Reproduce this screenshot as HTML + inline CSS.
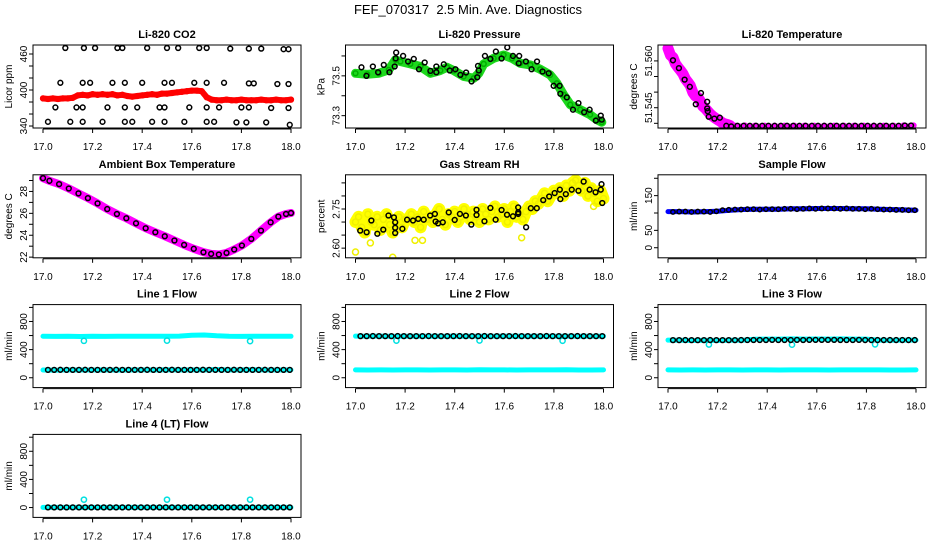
<!DOCTYPE html>
<html><head><meta charset="utf-8">
<style>
html,body{margin:0;padding:0;background:#fff;}
svg{display:block;font-family:"Liberation Sans",Arial,sans-serif;}
</style></head>
<body>
<svg id="chart" width="936" height="540" viewBox="0 0 936 540" xmlns="http://www.w3.org/2000/svg">
<rect x="0" y="0" width="936" height="540" fill="#fff"/>
<text x="468" y="14" text-anchor="middle" font-size="13">FEF_070317&#160; 2.5 Min. Ave. Diagnostics</text>
</svg>
<script>
// ---- shared axis data ----
const xTickVals = [17.0,17.2,17.4,17.6,17.8,18.0];
const xTickLabels = ["17.0","17.2","17.4","17.6","17.8","18.0"];

// ---- Li-820 CO2 ----
const co2Red = [386,385,386,385,386,386,387,391,392,391,393,392,393,392,393,391,392,390,389,390,391,392,393,392,394,394,395,396,397,398,399,399,398,388,384,383,383,384,383,383,384,383,383,383,384,383,383,384,383,383,384];
const co2BlackT = [17.09,17.165,17.21,17.30,17.32,17.42,17.50,17.545,17.63,17.66,17.755,17.83,17.88,17.97,17.99,
 17.07,17.16,17.19,17.28,17.33,17.40,17.49,17.52,17.61,17.66,17.73,17.83,17.85,17.945,17.99,
 17.05,17.135,17.16,17.26,17.33,17.38,17.47,17.49,17.59,17.66,17.71,17.80,17.83,17.92,17.99,
 17.02,17.11,17.16,17.24,17.33,17.36,17.44,17.49,17.57,17.66,17.69,17.78,17.82,17.90,17.995];
const co2BlackV = [470,470,470,470,470,470,470,470,470,470,469,469,469,468,468,
 412,412,412,412,412,412,412,412,412,412,412,411,411,410,410,
 371,371,371,371,371,371,371,371,371,371,371,371,371,370,370,
 347,347,347,347,347,347,347,347,347,347,347,346,346,346,342];
const co2Ticks = [340,360,380,400,420,440,460];
const co2Labels = ["340","","","400","","","460"];

// ---- Li-820 Pressure ----
const presGreenT = [17.000,17.047,17.094,17.134,17.161,17.181,17.221,17.262,17.302,17.342,17.369,17.396,17.436,17.477,17.497,17.517,17.557,17.597,17.631,17.664,17.705,17.745,17.785,17.812,17.839,17.866,17.906,17.946,17.973,17.993];
const presGreenV = [73.513,73.508,73.513,73.530,73.580,73.572,73.560,73.547,73.513,73.527,73.543,73.527,73.497,73.488,73.513,73.560,73.588,73.605,73.588,73.563,73.555,73.533,73.505,73.463,73.405,73.355,73.330,73.305,73.280,73.267];
const presBlackT = [17.024,17.044,17.070,17.091,17.114,17.137,17.158,17.162,17.164,17.192,17.212,17.235,17.256,17.279,17.302,17.326,17.326,17.356,17.380,17.403,17.423,17.446,17.468,17.491,17.494,17.497,17.522,17.544,17.566,17.589,17.612,17.635,17.660,17.658,17.687,17.710,17.732,17.754,17.779,17.799,17.823,17.826,17.852,17.877,17.899,17.922,17.944,17.969,17.989,17.993];
const presBlackV = [73.543,73.500,73.547,73.518,73.555,73.518,73.547,73.588,73.617,73.600,73.572,73.585,73.533,73.567,73.525,73.547,73.518,73.558,73.527,73.533,73.505,73.517,73.472,73.493,73.550,73.527,73.600,73.585,73.622,73.587,73.643,73.600,73.600,73.563,73.572,73.533,73.572,73.522,73.513,73.450,73.450,73.410,73.392,73.330,73.363,73.317,73.330,73.275,73.300,73.280];
const presTicks = [73.3,73.4,73.5,73.6];
const presLabels = ["73.3","","73.5",""];

// ---- Li-820 Temperature ----
const tempMagDrop = [51.5640,51.5618,51.5611,51.5591,51.5580,51.5570,51.5559,51.5542,51.5532,51.5521,51.5499,51.5488,51.5483,51.5472,51.5455,51.5448,51.5439,51.5430,51.5423,51.5417,51.5412,51.5407,51.5401,51.5398,51.5396,51.5393];
const tempMagFlat = [51.5392,51.5393,51.5392,51.5392,51.5392,51.5392,51.5392,51.5392,51.5392,51.5392,51.5392,51.5392,51.5392,51.5392,51.5392,51.5392,51.5392,51.5393,51.5393];
const tempBlackT = [17.020,17.044,17.067,17.088,17.112,17.133,17.158,17.158,17.160,17.164,17.187,17.209,17.235,17.255];
const tempBlackV = [51.5602,51.5577,51.5540,51.5517,51.5461,51.5497,51.5469,51.5448,51.5439,51.5421,51.5415,51.5418,51.5392,51.5390];
const tempBlackFlat = [51.5392,51.5392,51.5392,51.5392,51.5392,51.5392,51.5392,51.5392,51.5392,51.5392,51.5392,51.5392,51.5392,51.5392,51.5392,51.5392,51.5392,51.5392,51.5392,51.5392,51.5392,51.5392,51.5392,51.5392,51.5392,51.5392,51.5392,51.5393,51.5393];
const tempTicks = [51.540,51.545,51.550,51.555,51.560];
const tempLabels = ["","51.545","","","51.560"];

// ---- Ambient Box Temperature ----
const ambT = [17.0,17.026,17.065,17.104,17.143,17.181,17.22,17.259,17.298,17.336,17.375,17.414,17.453,17.491,17.530,17.569,17.608,17.647,17.678,17.709,17.740,17.771,17.802,17.840,17.879,17.918,17.949,17.980,18.0];
const ambV = [29.21,28.97,28.67,28.27,27.82,27.39,26.91,26.39,25.94,25.55,25.09,24.64,24.27,23.91,23.52,23.12,22.76,22.45,22.30,22.24,22.39,22.70,23.06,23.67,24.42,25.18,25.70,25.94,26.03];
const ambTicks = [22,23,24,25,26,27,28,29];
const ambLabels = ["22","","24","","26","","28",""];

// ---- Gas Stream RH ----
const rhYellow = [2.70,2.72,2.68,2.66,2.73,2.70,2.69,2.72,2.67,2.71,2.73,2.69,2.66,2.70,2.72,2.68,2.71,
 2.71,2.73,2.70,2.72,2.68,2.74,2.71,2.72,2.70,2.73,2.75,2.71,2.69,2.73,2.72,2.74,2.70,2.72,2.75,2.73,2.71,2.74,2.72,2.70,2.75,2.73,2.71,2.74,2.76,2.72,2.73,2.75,2.70,2.74,2.76,2.72,
 2.73,2.71,2.74,2.76,2.75,2.78,2.77,2.79,2.81,2.78,2.80,2.82,2.81,2.83,2.80,2.84,2.82,2.85,2.86,2.84,2.82,2.85,2.80,2.83,2.81,2.78,2.82,2.79];
const rhOutT = [17.0,17.15,17.06,17.27,17.67,17.24,17.96];
const rhOutV = [2.585,2.565,2.62,2.63,2.64,2.63,2.76];
const rhBlackT = [17.019,17.045,17.064,17.088,17.112,17.133,17.155,17.160,17.160,17.160,17.189,17.208,17.232,17.253,17.275,17.301,17.320,17.323,17.333,17.352,17.376,17.400,17.421,17.445,17.467,17.488,17.488,17.520,17.544,17.565,17.589,17.611,17.635,17.656,17.656,17.656,17.688,17.707,17.731,17.757,17.781,17.803,17.824,17.826,17.848,17.872,17.899,17.920,17.944,17.968,17.989,17.992,17.995];
const rhBlackV = [2.667,2.661,2.706,2.655,2.671,2.725,2.718,2.699,2.678,2.658,2.674,2.709,2.706,2.712,2.709,2.725,2.731,2.702,2.695,2.699,2.737,2.708,2.731,2.725,2.690,2.747,2.727,2.703,2.754,2.709,2.746,2.728,2.722,2.756,2.737,2.731,2.680,2.753,2.753,2.784,2.798,2.811,2.824,2.788,2.807,2.824,2.820,2.855,2.824,2.814,2.824,2.845,2.773];
const rhTicks = [2.60,2.65,2.70,2.75,2.80,2.85];
const rhLabels = ["2.60","","","2.75","",""];

// ---- Sample Flow ----
const sampleBlue = [104,104,103,104,105,108,110,111,111,111,112,112,113,113,113,112,112,111,110,109,108];
const sampleBlack = [103,104,104,103,104,104,103,105,108,109,110,110,111,111,110,111,111,111,112,112,111,112,113,112,113,113,113,112,113,112,112,111,112,111,110,110,109,109,108,108];
const sampleTicks = [0,50,100,150,200];
const sampleLabels = ["0","50","","150",""];

// ---- Line flows ----
const flowTicks = [0,200,400,600,800,1000];
const flowLabels = ["0","","400","","800",""];
const dipT = [17.165,17.5,17.835];
const line1CyanHigh = [590,588,590,586,590,588,590,589,590,591,590,592,605,608,596,590,588,590,589,590,590];
const line1CyanLow = [110,108,112,110,110,111,109,110,112,110,115,110,112,110,118,110,111,115,110,110,112];
const line1Dip = [525,528,520];
const line1Black = [112,112,113,112,112,112,113,112,112,112,112,113,112,112,112,112,113,112,112,112,113,112,112,112,112,113,112,112,112,112,113,112,112,112,112,113,112,112,112,112];
const line2CyanHigh = [592,590,592,588,590,590,591,590,592,590,591,590,592,591,590,590,589,590,590,590,591];
const line2CyanLow = [112,110,112,110,111,112,110,111,112,110,115,111,112,110,112,111,112,115,110,110,112];
const line2Dip = [528,530,526];
const line2Black = [592,592,593,592,592,592,593,592,592,592,592,593,592,592,592,592,593,592,592,592,593,592,592,592,592,593,592,592,592,592,593,592,592,592,592,593,592,592,592,592];
const line3CyanHigh = [535,532,530,532,530,532,533,548,550,550,552,550,551,550,552,550,549,536,534,535,535];
const line3CyanLow = [112,110,112,110,111,112,110,111,112,110,112,111,112,110,112,111,112,112,110,110,112];
const line3Dip = [472,470,475];
const line3Black = [535,535,536,535,535,535,536,535,535,535,535,536,537,537,537,537,538,537,537,537,538,537,538,538,538,539,538,537,537,537,538,536,536,536,536,536,536,536,536,536];
const line4Cyan = [2,2,2,2,2,2,2,2,2,2,2,2,2,2,2,2,2,2,2,2,2];
const line4Out = [112,112,112];
const line4Black = [2,2,2,2,2,2,2,2,2,2,2,2,2,2,2,2,2,2,2,2,2,2,2,2,2,2,2,2,2,2,2,2,2,2,2,2,2,2,2,2];

// ---- drawing ----
const NS = 'http://www.w3.org/2000/svg';
const svg = document.getElementById('chart');
function el(tag, attrs, parent){
  const e = document.createElementNS(NS, tag);
  for (const k in attrs) e.setAttribute(k, attrs[k]);
  (parent || svg).appendChild(e);
  return e;
}
function grid(start, step, n){ const a=[]; for(let i=0;i<n;i++) a.push(+(start+i*step).toFixed(4)); return a; }

function makePanel(col,row,slug,title,ytitle,yTop,yBot,yTicks,yLabels){
  const x17 = 43 + 312.5*col, x18 = x17 + 248;
  const L = x17 - 10, R = x18 + 10, T = 45 + 129.8*row, B = T + 83;
  const sx = t => x17 + (t - 17) * 248;
  const sy = v => T + (yTop - v) / (yTop - yBot) * 83;
  const g = el('g', {});
  
  
  const tt = el('text', {x:(L+R)/2, y:T-7, 'text-anchor':'middle', 'font-size':11, 'font-weight':'bold'}, g);
  tt.textContent = title;
  
  
  const yt = el('text', {transform:`translate(${L-21},${(T+B)/2}) rotate(-90)`, 'text-anchor':'middle', 'font-size':10}, g);
  yt.textContent = ytitle;
  
  
  const xa = el('g', {}, g);
  
  
  el('line', {x1:sx(xTickVals[0]), x2:sx(xTickVals[xTickVals.length-1]), y1:B+1, y2:B+1, stroke:'#000'}, xa);
  xTickVals.forEach((v,i) => {
    el('line', {x1:sx(v), x2:sx(v), y1:B+1, y2:B+5, stroke:'#000'}, xa);
    const lb = el('text', {x:sx(v), y:B+22, 'text-anchor':'middle', 'font-size':10}, xa);
    lb.textContent = xTickLabels[i];
    
    
  });
  const ya = el('g', {}, g);
  
  
  yTicks.forEach((v,i) => {
    const y = sy(v);
    el('line', {x1:L-4, x2:L, y1:y, y2:y, stroke:'#000'}, ya);
    if (yLabels[i]) {
      const lb = el('text', {transform:`translate(${L-6},${y}) rotate(-90)`, 'text-anchor':'middle', 'font-size':10}, ya);
      lb.textContent = yLabels[i];
      
      
    }
  });
  const clip = el('clipPath', {id:'clip-'+slug}, g);
  el('rect', {x:L, y:T, width:R-L, height:B-T}, clip);
  const plot = el('g', {'clip-path':`url(#clip-${slug})`}, g);
  
  
  const box = el('rect', {x:L, y:T, width:R-L, height:B-T, fill:'none', stroke:'#000'}, g);
  
  
  return {plot, sx, sy, slug};
}
function band(p, ts, vs, color, w, name){
  const pts = ts.map((t,i) => p.sx(t).toFixed(1) + ',' + p.sy(vs[i]).toFixed(1)).join(' ');
  const pl = el('polyline', {points:pts, fill:'none', stroke:color, 'stroke-width':w, 'stroke-linejoin':'round', 'stroke-linecap':'round'}, p.plot);
  
  
}
function pts(p, ts, vs, color, name, r){
  const g = el('g', {}, p.plot);
  
  
  ts.forEach((t,i) => {
    const c = el('circle', {cx:p.sx(t), cy:p.sy(vs[i]), r:r||2.4, fill:'none', stroke:color, 'stroke-width':1.5}, g);
    
    
  });
}

// CO2
let p = makePanel(0,0,'co2','Li-820 CO2','Licor ppm',475,336.7,co2Ticks,co2Labels);
let tg = grid(17,0.02,co2Red.length);
band(p, tg, co2Red, '#ff0000', 6, 'red-band');
pts(p, tg, co2Red, '#ff0000', 'red-series');
pts(p, co2BlackT, co2BlackV, '#000', 'black-series');

// Pressure
p = makePanel(1,0,'pressure','Li-820 Pressure','kPa',73.655,73.238,presTicks,presLabels);
band(p, presGreenT, presGreenV, '#1ed81e', 9, 'green-band');
pts(p, presGreenT, presGreenV, '#00b000', 'green-series');
pts(p, presBlackT, presBlackV, '#000', 'black-series');

// Temperature
p = makePanel(2,0,'li820-temp','Li-820 Temperature','degrees C',51.5651,51.5385,tempTicks,tempLabels);
let td = grid(17,0.01,tempMagDrop.length), tf = grid(17.27,0.04,tempMagFlat.length);
band(p, td, tempMagDrop, '#ff00ff', 11, 'magenta-band');
band(p, tf, tempMagFlat, '#ff00ff', 4, 'magenta-flat');
pts(p, td, tempMagDrop, '#ff00ff', 'magenta-series', 3);
pts(p, tf, tempMagFlat, '#ff00ff', 'magenta-flat-series');
pts(p, tempBlackT, tempBlackV, '#000', 'black-series');
pts(p, grid(17.28,0.025,tempBlackFlat.length), tempBlackFlat, '#000', 'black-flat-series');

// Ambient
p = makePanel(0,1,'ambient','Ambient Box Temperature','degrees C',29.52,21.94,ambTicks,ambLabels);
band(p, ambT, ambV, '#ff00ff', 8, 'magenta-band');
pts(p, ambT, ambV, '#000', 'black-series');

// RH
p = makePanel(1,1,'gas-rh','Gas Stream RH','percent',2.881,2.563,rhTicks,rhLabels);
tg = grid(17,0.0125,rhYellow.length);
band(p, tg, rhYellow, '#ffff00', 12, 'yellow-band');
pts(p, tg, rhYellow, '#f0f000', 'yellow-series', 3);
pts(p, rhOutT, rhOutV, '#f0f000', 'yellow-outliers', 3);
pts(p, rhBlackT, rhBlackV, '#000', 'black-series');

// Sample flow
p = makePanel(2,1,'sample-flow','Sample Flow','ml/min',210,-29,sampleTicks,sampleLabels);
band(p, grid(17,0.05,sampleBlue.length), sampleBlue, '#0000ff', 5, 'blue-band');
pts(p, grid(17.02,0.025,sampleBlack.length), sampleBlack, '#000', 'black-series', 2.2);

// Line flows
function flowPanel(col,row,slug,title,hi,lo,dip,blk){
  const q = makePanel(col,row,slug,title,'ml/min',1040,-140,flowTicks,flowLabels);
  if (hi) band(q, grid(17,0.05,hi.length), hi, '#00ffff', 5, 'cyan-high-band');
  if (lo) band(q, grid(17,0.05,lo.length), lo, '#00ffff', 5, 'cyan-low-band');
  if (dip) pts(q, dipT, dip, '#00e0e0', 'cyan-dips', 2.6);
  pts(q, grid(17.02,0.025,blk.length), blk, '#000', 'black-series', 2.4);
  return q;
}
flowPanel(0,2,'line1-flow','Line 1 Flow',line1CyanHigh,line1CyanLow,line1Dip,line1Black);
flowPanel(1,2,'line2-flow','Line 2 Flow',line2CyanHigh,line2CyanLow,line2Dip,line2Black);
flowPanel(2,2,'line3-flow','Line 3 Flow',line3CyanHigh,line3CyanLow,line3Dip,line3Black);
flowPanel(0,3,'line4-flow','Line 4 (LT) Flow',null,line4Cyan,line4Out,line4Black);
</script>
</body></html>
